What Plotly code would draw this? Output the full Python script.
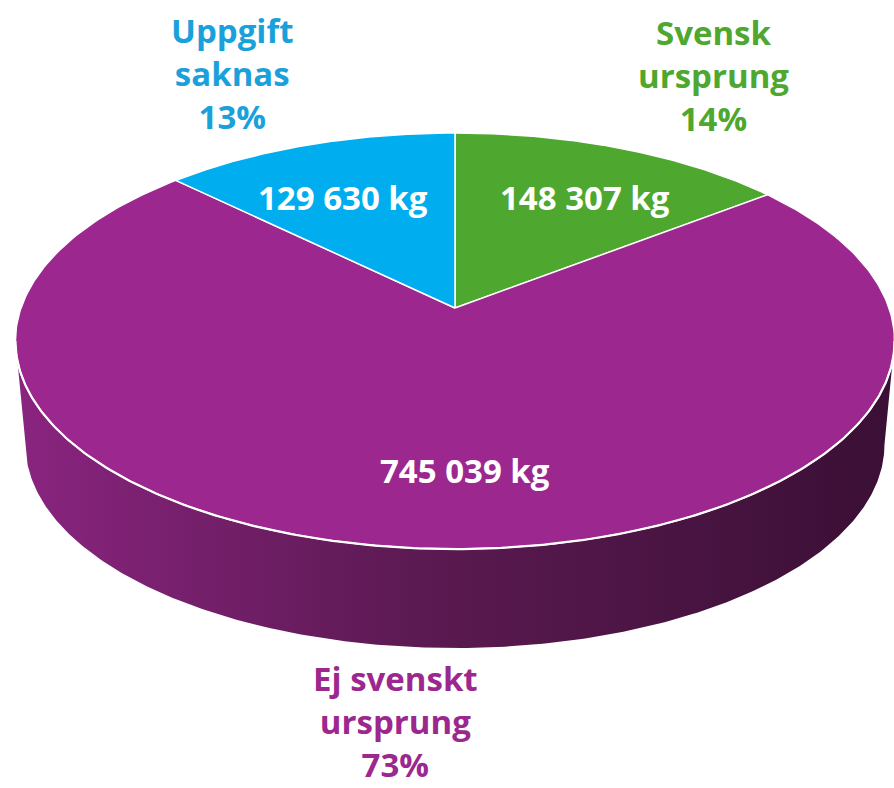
import numpy as np
import plotly.graph_objects as go

# ---- data ----
categories = ["Svensk ursprung", "Ej svenskt ursprung", "Uppgift saknas"]
label_lines = ["Svensk<br>ursprung", "Ej svenskt<br>ursprung", "Uppgift<br>saknas"]
values_kg = [148307, 745039, 129630]
value_labels = ["148 307 kg", "745 039 kg", "129 630 kg"]
colors = ["#4EA72E", "#9C288F", "#00AEEF"]
text_colors = ["#4EA72E", "#9C288F", "#1AA1DB"]

W, H = 894, 788

# ---- perspective geometry of the 3D pie ----
cx, cy = 455.0, 308.0        # projected centre of the top disc
A, B = 434.0, 202.8          # projected radii
k = 0.1587                   # perspective strength
s, h = 0.977, 104.5          # bottom-disc scale and depth


def proj(phi_deg, bottom=False):
    phi = np.radians(phi_deg)
    u, v = np.sin(phi), np.cos(phi)
    w = 1 + k * v
    sc = s if bottom else 1.0
    x = cx + sc * A * u / w
    y = cy + (h if bottom else 0.0) - sc * B * v / w
    return x, y


total = sum(values_kg)
fracs = [v / total for v in values_kg]
starts = np.concatenate([[0], np.cumsum(fracs)[:-1]]) * 360
ends = np.cumsum(fracs) * 360

fig = go.Figure()

# side wall (visible near half)
phi_r = np.degrees(np.arccos(-k))
phi_l = 360 - phi_r
arc = np.linspace(phi_r, phi_l, 300)
tx, ty = proj(arc)
bx, by = proj(arc[::-1], bottom=True)
fig.add_trace(go.Scatter(
    x=np.concatenate([tx, bx, tx[:1]]), y=np.concatenate([ty, by, ty[:1]]),
    mode="lines", fill="toself", line=dict(width=0, color="rgba(0,0,0,0)"),
    fillgradient=dict(type="horizontal",
                      colorscale=[[0, "#8A2480"], [0.45, "#5C1A52"], [1, "#3A0F35"]]),
    hoverinfo="skip", showlegend=False))

# top slices
for i in range(len(values_kg)):
    a = np.linspace(starts[i], ends[i], 300)
    px, py = proj(a)
    fig.add_trace(go.Scatter(
        x=np.concatenate([[cx], px, [cx]]), y=np.concatenate([[cy], py, [cy]]),
        mode="lines", fill="toself", fillcolor=colors[i],
        line=dict(color="white", width=1.5),
        hoverinfo="skip", showlegend=False, name=categories[i]))

# white rim between top face and wall
fig.add_trace(go.Scatter(x=tx, y=ty, mode="lines", line=dict(color="white", width=2.2),
                         hoverinfo="skip", showlegend=False))

font = "Open Sans, Noto Sans, sans-serif"

# value labels inside slices
val_pos = [(585, 197), (465, 470), (343, 197)]
for i, (x, y) in enumerate(val_pos):
    fig.add_annotation(x=x, y=y, text=f"<b>{value_labels[i]}</b>", showarrow=False,
                       font=dict(family=font, size=33, color="white"))

# category labels with percentages
cat_pos = [(713, 75), (395, 721), (232, 73)]
for i, (x, y) in enumerate(cat_pos):
    pct = round(fracs[i] * 100)
    fig.add_annotation(x=x, y=y, text=f"<b>{label_lines[i]}<br>{pct}%</b>",
                       showarrow=False, align="center",
                       font=dict(family=font, size=33, color=text_colors[i]))

fig.update_layout(
    width=W, height=H, margin=dict(l=0, r=0, t=0, b=0),
    paper_bgcolor="white", plot_bgcolor="white",
    xaxis=dict(range=[0, W], visible=False, fixedrange=True),
    yaxis=dict(range=[H, 0], visible=False, fixedrange=True),
)
fig.write_html(
    "out.html",
    config={"displayModeBar": False},
    post_script="document.body.style.margin='0';document.body.style.overflow='hidden';"
                "document.documentElement.style.overflow='hidden';",
)
